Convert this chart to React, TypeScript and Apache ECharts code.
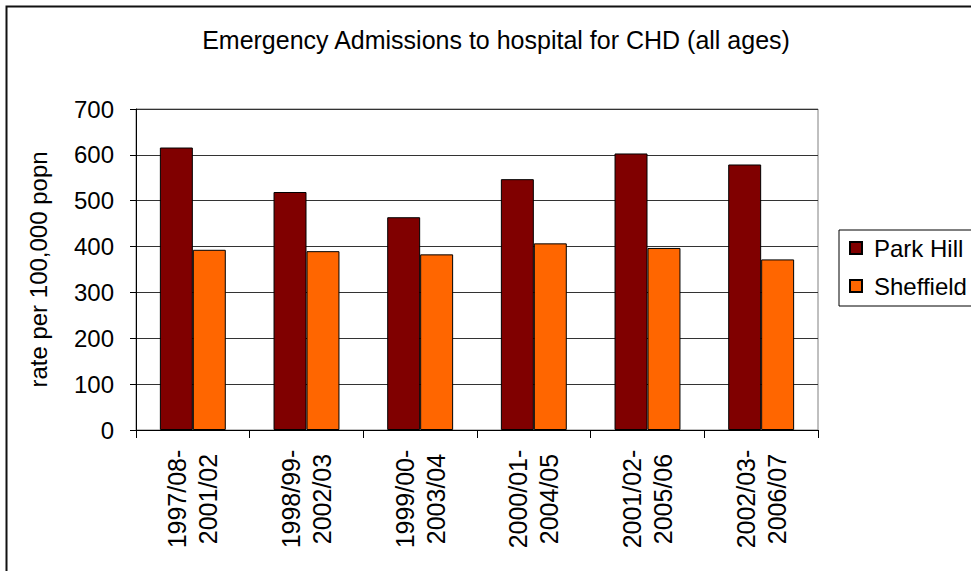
import React, { useEffect, useRef } from "react";
import * as echarts from "echarts";

const categories = [
  "1997/08-\n2001/02",
  "1998/99-\n2002/03",
  "1999/00-\n2003/04",
  "2000/01-\n2004/05",
  "2001/02-\n2005/06",
  "2002/03-\n2006/07",
];
const parkHill = [616, 519, 464, 547, 603, 579];
const sheffield = [393, 390, 383, 407, 397, 372];
const yTicks = { min: 0, max: 700, interval: 100 };

const FONT = "'Liberation Sans', Arial, sans-serif";

export default function App() {
  const ref = useRef<HTMLDivElement>(null);
  useEffect(() => {
    if (!ref.current) return;
    const chart = echarts.init(ref.current, undefined, { renderer: "svg" });
    chart.setOption({
      animation: false,
      backgroundColor: "#ffffff",
      textStyle: { fontFamily: FONT, color: "#000" },
      title: {
        text: "Emergency Admissions to hospital for CHD (all ages)",
        left: 491,
        textAlign: "center",
        top: 22,
        textStyle: { fontFamily: FONT, fontSize: 25, fontWeight: "normal", color: "#000" },
      },
      graphic: [
        {
          type: "rect",
          shape: { x: 6.5, y: 6.5, width: 1000, height: 600 },
          style: { fill: "none", stroke: "#111", lineWidth: 2 },
          silent: true,
        },
      ],
      legend: {
        orient: "vertical",
        left: 839,
        top: 230,
        padding: [6, 30, 8, 10],
        itemGap: 14,
        itemWidth: 12,
        itemHeight: 12,
        icon: "rect",
        borderColor: "#000",
        borderWidth: 1,
        textStyle: { fontFamily: FONT, fontSize: 24, color: "#000", padding: [0, 0, 0, 7] },
        data: ["Park Hill", "Sheffield"],
      },
      grid: {
        left: 136,
        right: 153,
        top: 109,
        bottom: 141,
        show: true,
        borderColor: "#808080",
        borderWidth: 1,
        backgroundColor: "transparent",
      },
      xAxis: {
        type: "category",
        data: categories,
        axisLine: { lineStyle: { color: "#000", width: 1 } },
        axisTick: { show: true, length: 8, lineStyle: { color: "#000" } },
        axisLabel: {
          rotate: 90,
          align: "center",
          verticalAlign: "middle",
          margin: 69,
          fontFamily: FONT,
          fontSize: 25,
          lineHeight: 31,
          color: "#000",
        },
      },
      yAxis: {
        type: "value",
        min: yTicks.min,
        max: yTicks.max,
        interval: yTicks.interval,
        name: "rate per 100,000 popn",
        nameLocation: "middle",
        nameGap: 86,
        nameTextStyle: { fontFamily: FONT, fontSize: 24, color: "#000" },
        axisLine: { show: true, lineStyle: { color: "#000", width: 1 } },
        axisTick: { show: true, length: 6, lineStyle: { color: "#000" } },
        axisLabel: { margin: 22, fontFamily: FONT, fontSize: 24, color: "#000" },
        splitLine: { show: true, lineStyle: { color: "#333", width: 1 } },
      },
      series: [
        {
          name: "Park Hill",
          type: "bar",
          data: parkHill,
          barGap: "0%",
          barCategoryGap: "42%",
          itemStyle: { color: "#800000", borderColor: "#000", borderWidth: 1 },
        },
        {
          name: "Sheffield",
          type: "bar",
          data: sheffield,
          barGap: "0%",
          barCategoryGap: "42%",
          itemStyle: { color: "#FF6600", borderColor: "#000", borderWidth: 1 },
        },
      ],
    });
    return () => chart.dispose();
  }, []);
  return (
    <div
      ref={ref}
      style={{ position: "fixed", left: 0, top: 0, width: 971, height: 571 }}
    />
  );
}
